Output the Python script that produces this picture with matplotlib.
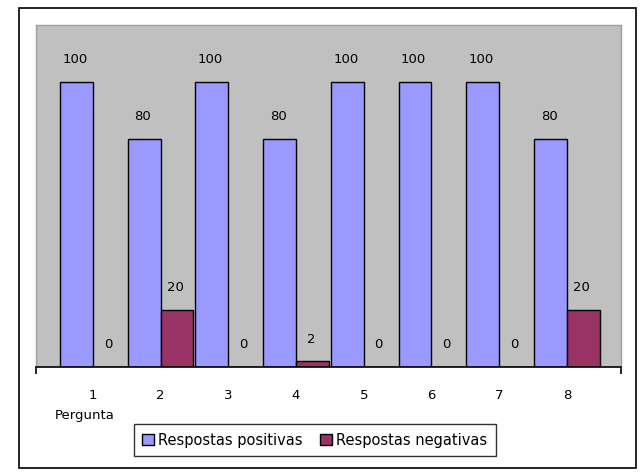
import numpy as np
import matplotlib
matplotlib.use('Agg')
import matplotlib.pyplot as plt
from matplotlib.patches import Rectangle

# dados
perguntas = ['1', '2', '3', '4', '5', '6', '7', '8']
positivas = [100, 80, 100, 80, 100, 100, 100, 80]
negativas = [0, 20, 0, 2, 0, 0, 0, 20]
series_nomes = ['Respostas positivas', 'Respostas negativas']

plt.rcParams['font.family'] = ['DejaVu Sans']

fig = plt.figure(figsize=(6.42, 4.72), dpi=100)
fig.patch.set_facecolor('white')

# moldura externa do grafico
fig.patches.append(Rectangle((19/642, 1-468/472), (636-19)/642, (468-8)/472,
                             transform=fig.transFigure, fill=False,
                             edgecolor='black', linewidth=1.2))

ax = fig.add_axes([36/642, 1-367/472, (621-36)/642, (367-25)/472])
ax.set_facecolor('#C0C0C0')

x = np.arange(len(perguntas))
w = 0.485
b1 = ax.bar(x - w/2, positivas, w, color='#9999FF', edgecolor='black',
            linewidth=1, label=series_nomes[0])
b2 = ax.bar(x + w/2, negativas, w, color='#993366', edgecolor='black',
            linewidth=1, label=series_nomes[1])

for bars in (b1, b2):
    for r in bars:
        h = r.get_height()
        ax.annotate('%d' % h, (r.get_x() + r.get_width()/2, h),
                    xytext=(-1, 16), textcoords='offset points',
                    ha='center', va='center', fontsize=9.5)

x0, x1 = -0.84, 7.8
ax.set_xlim(x0, x1)
ax.set_ylim(0, 120)

for s in ['top', 'right', 'left']:
    ax.spines[s].set_edgecolor('#A0A0A0')
    ax.spines[s].set_linewidth(1)
ax.spines['bottom'].set_edgecolor('black')
ax.spines['bottom'].set_linewidth(1.2)

ax.set_yticks([])
ax.set_xticks(x)
ax.set_xticklabels(perguntas, fontsize=9.5)
ax.tick_params(axis='x', which='major', length=0, pad=16)
ax.set_xticks([x0, x1], minor=True)
ax.tick_params(axis='x', which='minor', length=5, width=1.2, color='black')

fig.text(55/642, 1-415/472, 'Pergunta', ha='left', va='center', fontsize=9.5)

leg = fig.legend(loc='center', bbox_to_anchor=(315/642, 1-440/472), ncol=2,
                 fontsize=10.5, frameon=True, fancybox=False, edgecolor='black',
                 handlelength=0.8, handleheight=0.8, handletextpad=0.3,
                 columnspacing=1.2, borderpad=0.6)
leg.get_frame().set_linewidth(1)

fig.savefig('out.png', dpi=100)
